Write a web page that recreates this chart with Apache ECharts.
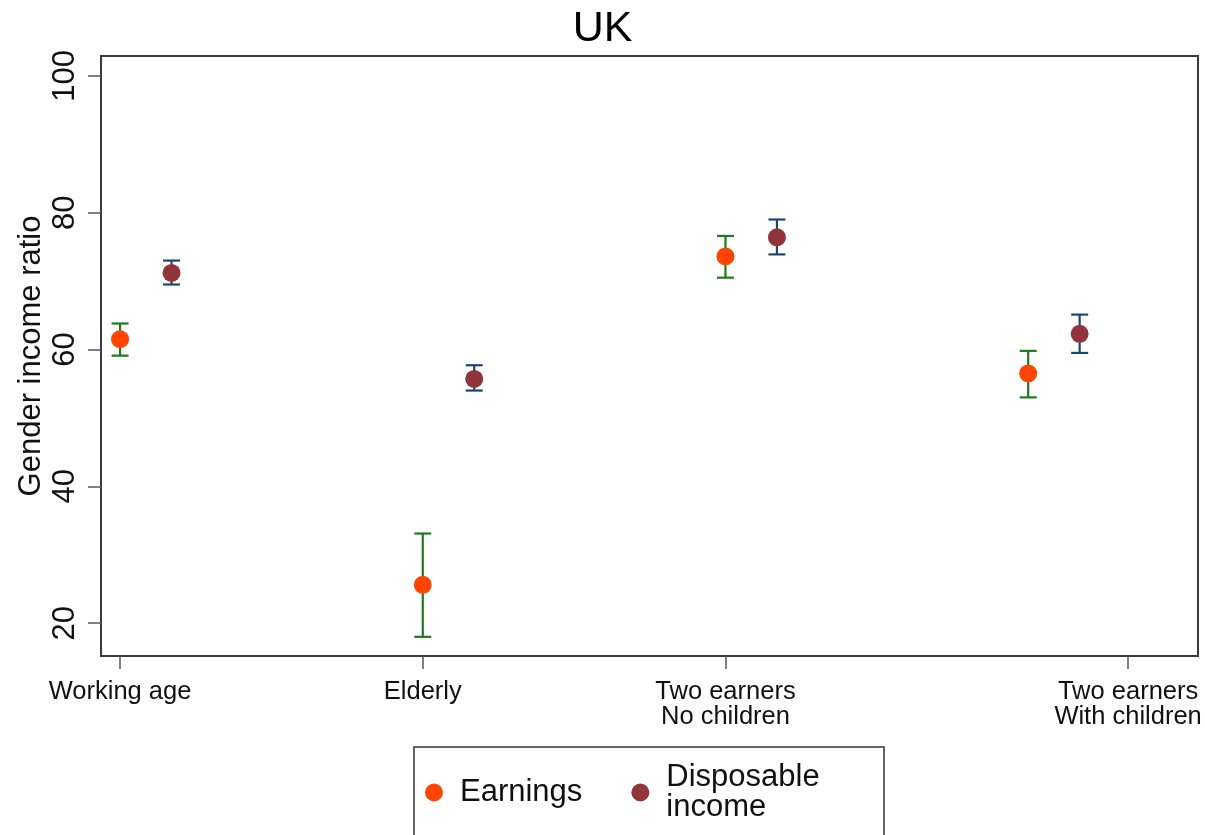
<!DOCTYPE html>
<html>
<head>
<meta charset="utf-8">
<title>UK gender income ratio</title>
<script src="https://cdn.jsdelivr.net/npm/echarts@6/dist/echarts.min.js"></script>
<style>
  html, body { margin: 0; padding: 0; background: #fff; }
  #chart { width: 1205px; height: 835px; }
</style>
</head>
<body>
<div id="chart"></div>
<script>
// Groups along the x axis and where each group label sits
const categories = ['Working age', 'Elderly', 'Two earners\nNo children', 'Two earners\nWith children'];
const tickPositions = [1, 2, 3, 4.33];
const yTicks = [20, 40, 60, 80, 100];

// Earnings: point estimate and confidence interval
const earningsX = [1, 2, 3, 4];
const earnings = [61.5, 25.6, 73.6, 56.5];
const earningsLow = [59.1, 18.0, 70.5, 53.0];
const earningsHigh = [63.8, 33.1, 76.6, 59.8];

// Disposable income: point estimate and confidence interval
const disposableX = [1.17, 2.17, 3.17, 4.17];
const disposable = [71.2, 55.7, 76.4, 62.3];
const disposableLow = [69.5, 54.0, 73.9, 59.5];
const disposableHigh = [73.0, 57.7, 79.0, 65.1];

const FONT = '"Liberation Sans", Arial, Helvetica, sans-serif';
const COL_EARN = '#ff4500';
const COL_DISP = '#90353b';
const COL_EARN_CI = '#1f7a1f';
const COL_DISP_CI = '#1a476f';

function pointData(xs, ys) {
  return xs.map((x, i) => [x, ys[i]]);
}
function ciData(xs, lo, hi) {
  return xs.map((x, i) => [x, lo[i], hi[i]]);
}

// Vertical whisker with caps at both ends
function errorBar(color) {
  return function (params, api) {
    const x = api.value(0);
    const top = api.coord([x, api.value(2)]);
    const bot = api.coord([x, api.value(1)]);
    const hw = 8.5;
    const style = { stroke: color, lineWidth: 2.2 };
    return {
      type: 'group',
      children: [
        { type: 'line', shape: { x1: top[0], y1: top[1], x2: bot[0], y2: bot[1] }, style },
        { type: 'line', shape: { x1: top[0] - hw, y1: top[1], x2: top[0] + hw, y2: top[1] }, style },
        { type: 'line', shape: { x1: bot[0] - hw, y1: bot[1], x2: bot[0] + hw, y2: bot[1] }, style }
      ]
    };
  };
}

const chart = echarts.init(document.getElementById('chart'), null, { renderer: 'canvas' });

chart.setOption({
  backgroundColor: '#fff',
  animation: false,
  textStyle: { fontFamily: FONT },
  title: {
    text: 'UK',
    left: 'center',
    top: 3,
    textStyle: { fontFamily: FONT, fontSize: 43, fontWeight: 'normal', color: '#000' }
  },
  grid: {
    left: 101, right: 7, top: 56, bottom: 179,
    show: true, borderColor: '#3a3a3a', borderWidth: 2,
    outerBoundsMode: 'none', containLabel: false
  },
  xAxis: {
    type: 'value',
    min: 0.937, max: 4.561,
    splitLine: { show: false },
    axisLine: { show: true, onZero: false, lineStyle: { color: '#3a3a3a', width: 2 } },
    axisTick: {
      show: true, length: 13, inside: false, customValues: tickPositions,
      lineStyle: { color: '#555', width: 1.5 }
    },
    axisLabel: {
      customValues: tickPositions,
      margin: 23,
      fontFamily: FONT, fontSize: 25.5, lineHeight: 25, color: '#111',
      formatter: function (v) {
        const i = tickPositions.findIndex(t => Math.abs(t - v) < 1e-6);
        return i >= 0 ? categories[i] : '';
      }
    }
  },
  yAxis: {
    type: 'value',
    min: 15.2, max: 102.9,
    name: 'Gender income ratio',
    nameLocation: 'middle',
    nameRotate: 90,
    nameGap: 54,
    nameMoveOverlap: false,
    nameTextStyle: { fontFamily: FONT, fontSize: 31, color: '#111' },
    splitLine: { show: false },
    axisLine: { show: true, onZero: false, lineStyle: { color: '#3a3a3a', width: 2 } },
    axisTick: {
      show: true, length: 13, customValues: yTicks,
      lineStyle: { color: '#555', width: 1.5 }
    },
    axisLabel: {
      customValues: yTicks,
      rotate: 90,
      margin: 20,
      fontFamily: FONT, fontSize: 31, color: '#111'
    }
  },
  legend: {
    left: 425,
    top: 762,
    padding: 0,
    itemGap: 49,
    itemWidth: 42,
    itemHeight: 18,
    symbolKeepAspect: true,
    textStyle: { fontFamily: FONT, fontSize: 31, lineHeight: 30, color: '#111' },
    formatter: function (name) {
      return name === 'Disposable income' ? 'Disposable\nincome' : name;
    },
    data: [
      { name: 'Earnings', icon: 'circle' },
      { name: 'Disposable income', icon: 'circle' }
    ]
  },
  graphic: [
    {
      type: 'rect',
      z: 0,
      shape: { x: 414, y: 747, width: 470, height: 120 },
      style: { fill: '#fff', stroke: '#333', lineWidth: 1.5 }
    }
  ],
  series: [
    {
      name: 'Earnings CI',
      type: 'custom',
      renderItem: errorBar(COL_EARN_CI),
      data: ciData(earningsX, earningsLow, earningsHigh),
      encode: { x: 0, y: [1, 2] },
      z: 2
    },
    {
      name: 'Disposable income CI',
      type: 'custom',
      renderItem: errorBar(COL_DISP_CI),
      data: ciData(disposableX, disposableLow, disposableHigh),
      encode: { x: 0, y: [1, 2] },
      z: 2
    },
    {
      name: 'Earnings',
      type: 'scatter',
      symbol: 'circle',
      symbolSize: 18,
      itemStyle: { color: COL_EARN, opacity: 1 },
      data: pointData(earningsX, earnings),
      z: 3
    },
    {
      name: 'Disposable income',
      type: 'scatter',
      symbol: 'circle',
      symbolSize: 18,
      itemStyle: { color: COL_DISP, opacity: 1 },
      data: pointData(disposableX, disposable),
      z: 3
    }
  ]
});
</script>
</body>
</html>
